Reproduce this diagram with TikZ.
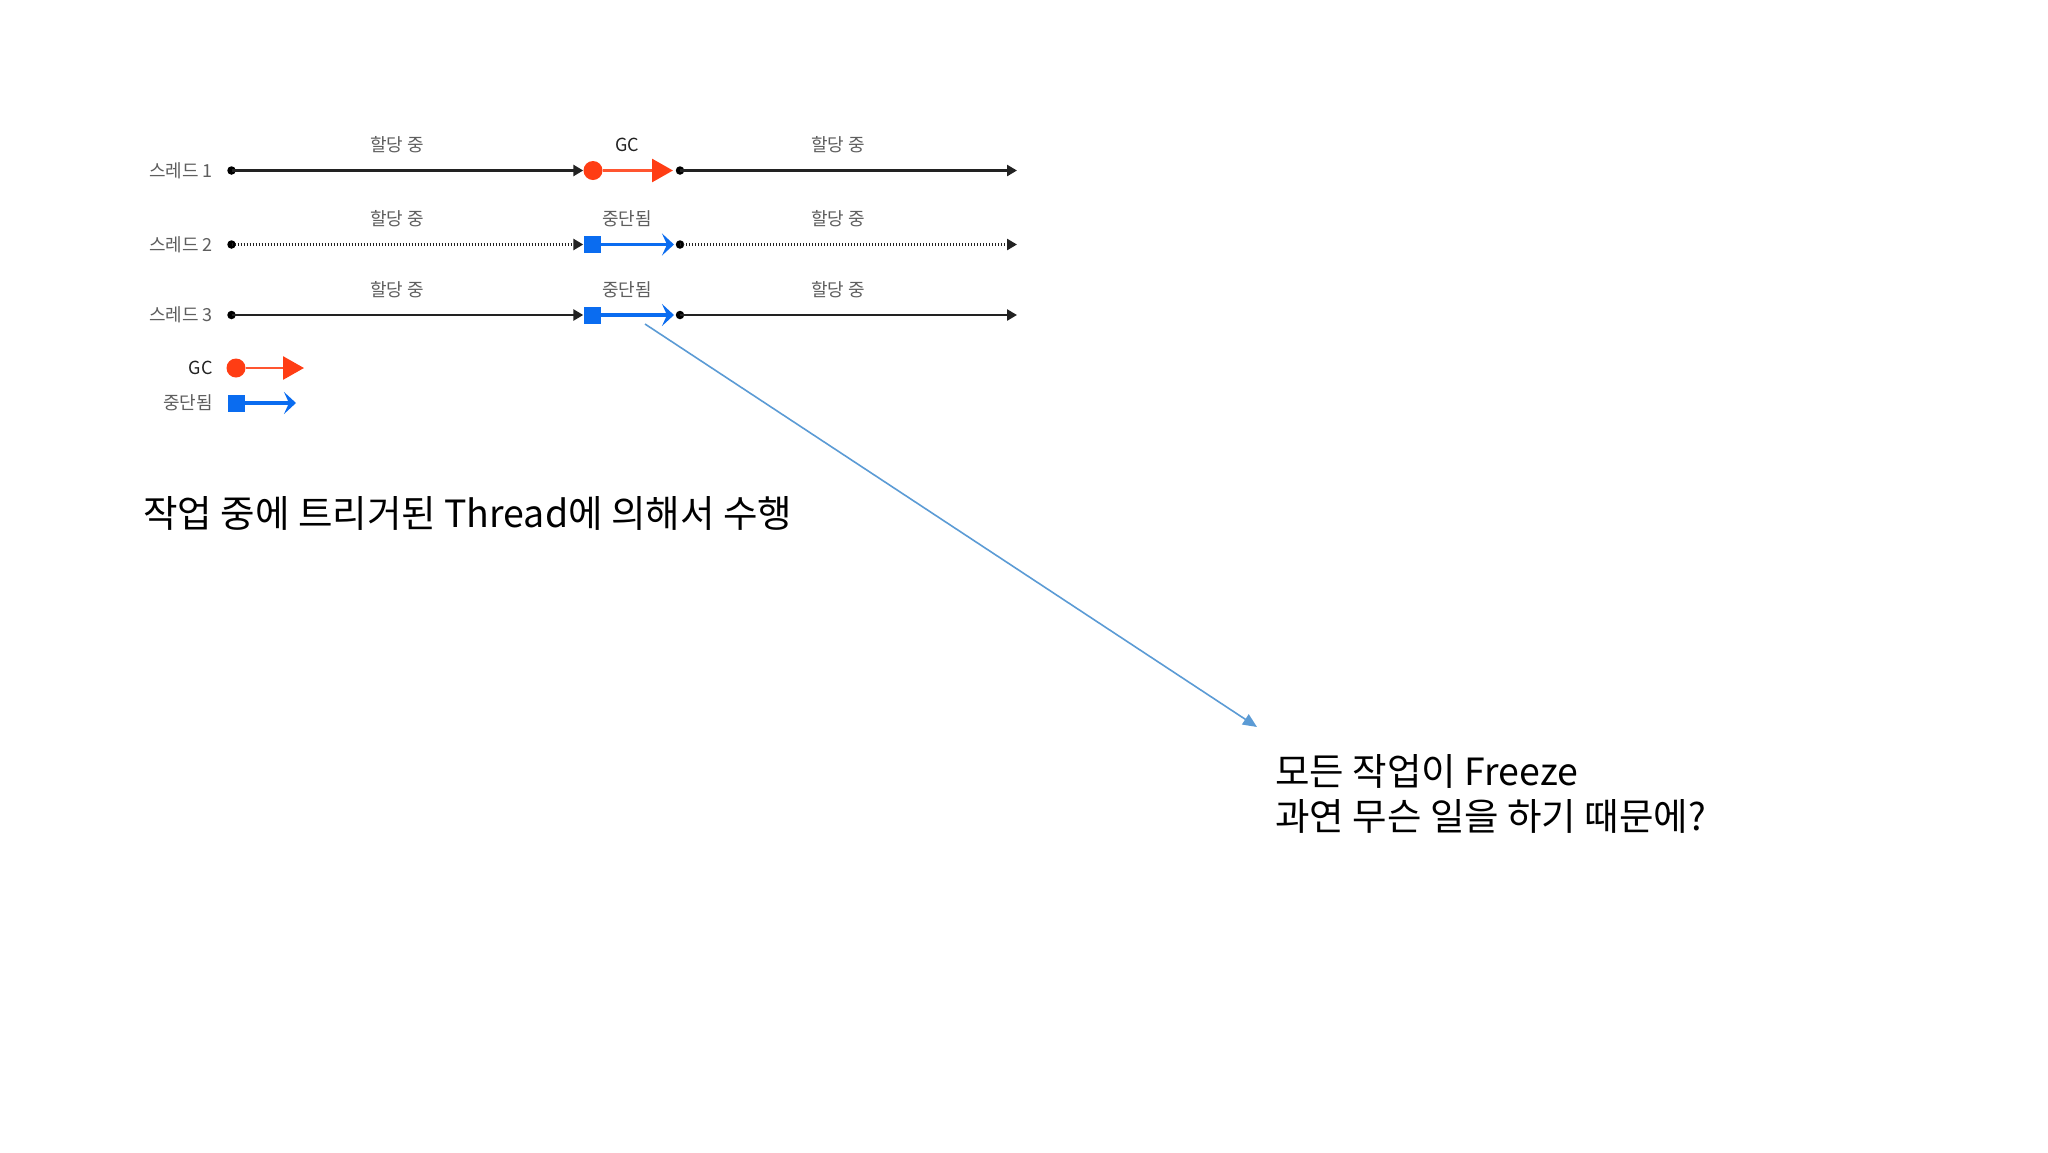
\documentclass[tikz,border=0pt]{standalone}
\usepackage{fontspec}
\setmainfont{Noto Sans CJK KR}
\usetikzlibrary{arrows.meta}
\definecolor{gcred}{HTML}{FF3D14}
\definecolor{gcline}{HTML}{FF5530}
\definecolor{stopblue}{HTML}{0A6CF0}
\definecolor{linkblue}{HTML}{5B9BD5}
\definecolor{lblgray}{HTML}{5E5E5E}
\definecolor{runblack}{HTML}{222222}
\begin{document}
\begin{tikzpicture}[x=1pt,y=-1pt,
  dot/.style={circle,fill=black,inner sep=0pt,minimum size=8.5pt},
  gcdot/.style={circle,fill=gcred,inner sep=0pt,minimum size=19pt},
  stopsq/.style={rectangle,fill=stopblue,inner sep=0pt,minimum size=17pt},
  lbl/.style={font=\fontsize{18}{21}\selectfont,text=lblgray,inner sep=0pt},
  dlbl/.style={font=\fontsize{18}{21}\selectfont,text=runblack,inner sep=0pt},
  run/.style={runblack,line width=2.8pt,-{Triangle[length=10pt,width=11pt]}},
  dotrun/.style={runblack,line width=2.6pt,dash pattern=on 1.4pt off 1.6pt,-{Triangle[length=10pt,width=11pt]}},
  gcarrow/.style={gcline,line width=2.8pt,-{Triangle[length=21pt,width=23pt,color=gcred]}},
  stoparrow/.style={stopblue,line width=3.2pt,-{Stealth[length=12pt,width=22pt,inset=5pt]}},
  bigtxt/.style={inner sep=0pt,anchor=base west,text=black}
]
\fill[white] (0,0) rectangle (2048,1152);
\useasboundingbox (0,0) rectangle (2048,1152);

% ---------- row 1 ----------
\node[lbl,anchor=east] (l1) at (213,170.5) {스레드 1};
\node[dot] (s1) at (231.5,170.5) {};
\node[gcdot] (g1) at (593,170.5) {};
\coordinate (g1e) at (673,170.5);
\node[dot] (r1) at (680,170.5) {};
\coordinate (e1) at (1017,170.5);
\draw[run] (s1.center) -- (g1.west);
\draw[gcarrow] (g1) -- (g1e);
\draw[run] (r1.center) -- (e1);
\node[lbl] (a1a) at (397,145) {할당 중};
\node[dlbl] (a1b) at (627,145) {GC};
\node[lbl] (a1c) at (838,145) {할당 중};

% ---------- row 2 ----------
\node[lbl,anchor=east] (l2) at (213,244.5) {스레드 2};
\node[dot] (s2) at (231.5,244.5) {};
\node[stopsq] (q2) at (592,244.5) {};
\coordinate (q2e) at (674,244.5);
\node[dot] (r2) at (680,244.5) {};
\coordinate (e2) at (1017,244.5);
\draw[dotrun] (s2.center) -- (q2.west);
\draw[stoparrow] (q2) -- (q2e);
\draw[dotrun] (r2.center) -- (e2);
\node[lbl] (a2a) at (397,219) {할당 중};
\node[lbl] (a2b) at (627,219) {중단됨};
\node[lbl] (a2c) at (838,219) {할당 중};

% ---------- row 3 ----------
\node[lbl,anchor=east] (l3) at (213,315) {스레드 3};
\node[dot] (s3) at (231.5,315) {};
\node[stopsq] (q3) at (592,315) {};
\coordinate (q3e) at (674,315);
\node[dot] (r3) at (680,315) {};
\coordinate (e3) at (1017,315);
\draw[run] (s3.center) -- (q3.west);
\draw[stoparrow] (q3) -- (q3e);
\draw[run] (r3.center) -- (e3);
\node[lbl] (a3a) at (397,290) {할당 중};
\node[lbl] (a3b) at (627,290) {중단됨};
\node[lbl] (a3c) at (838,290) {할당 중};

% ---------- legend ----------
\node[dlbl,anchor=east] (lg1) at (213,368) {GC};
\node[gcdot] (lgc) at (236,368) {};
\coordinate (lgce) at (304,368);
\draw[gcarrow] (lgc) -- (lgce);
\node[lbl,anchor=east] (lg2) at (213,403) {중단됨};
\node[stopsq] (lsq) at (236,403) {};
\coordinate (lsqe) at (296,403);
\draw[stoparrow] (lsq) -- (lsqe);

% ---------- pointer ----------
\coordinate (pa) at (645,324);
\coordinate (pb) at (1257,727);
\draw[linkblue,line width=1.6pt,-{Triangle[length=14pt,width=12pt]}] (pa) -- (pb);

% ---------- texts ----------
\node[bigtxt,font=\fontsize{37.5}{44}\selectfont] (t1) at (143,527) {작업 중에 트리거된 Thread에 의해서 수행};
\node[bigtxt,font=\fontsize{37.5}{45}\selectfont] (t2) at (1275,785) {모든 작업이 Freeze};
\node[bigtxt,font=\fontsize{37.5}{45}\selectfont] (t3) at (1275,830) {과연 무슨 일을 하기 때문에?};
\end{tikzpicture}
\end{document}
